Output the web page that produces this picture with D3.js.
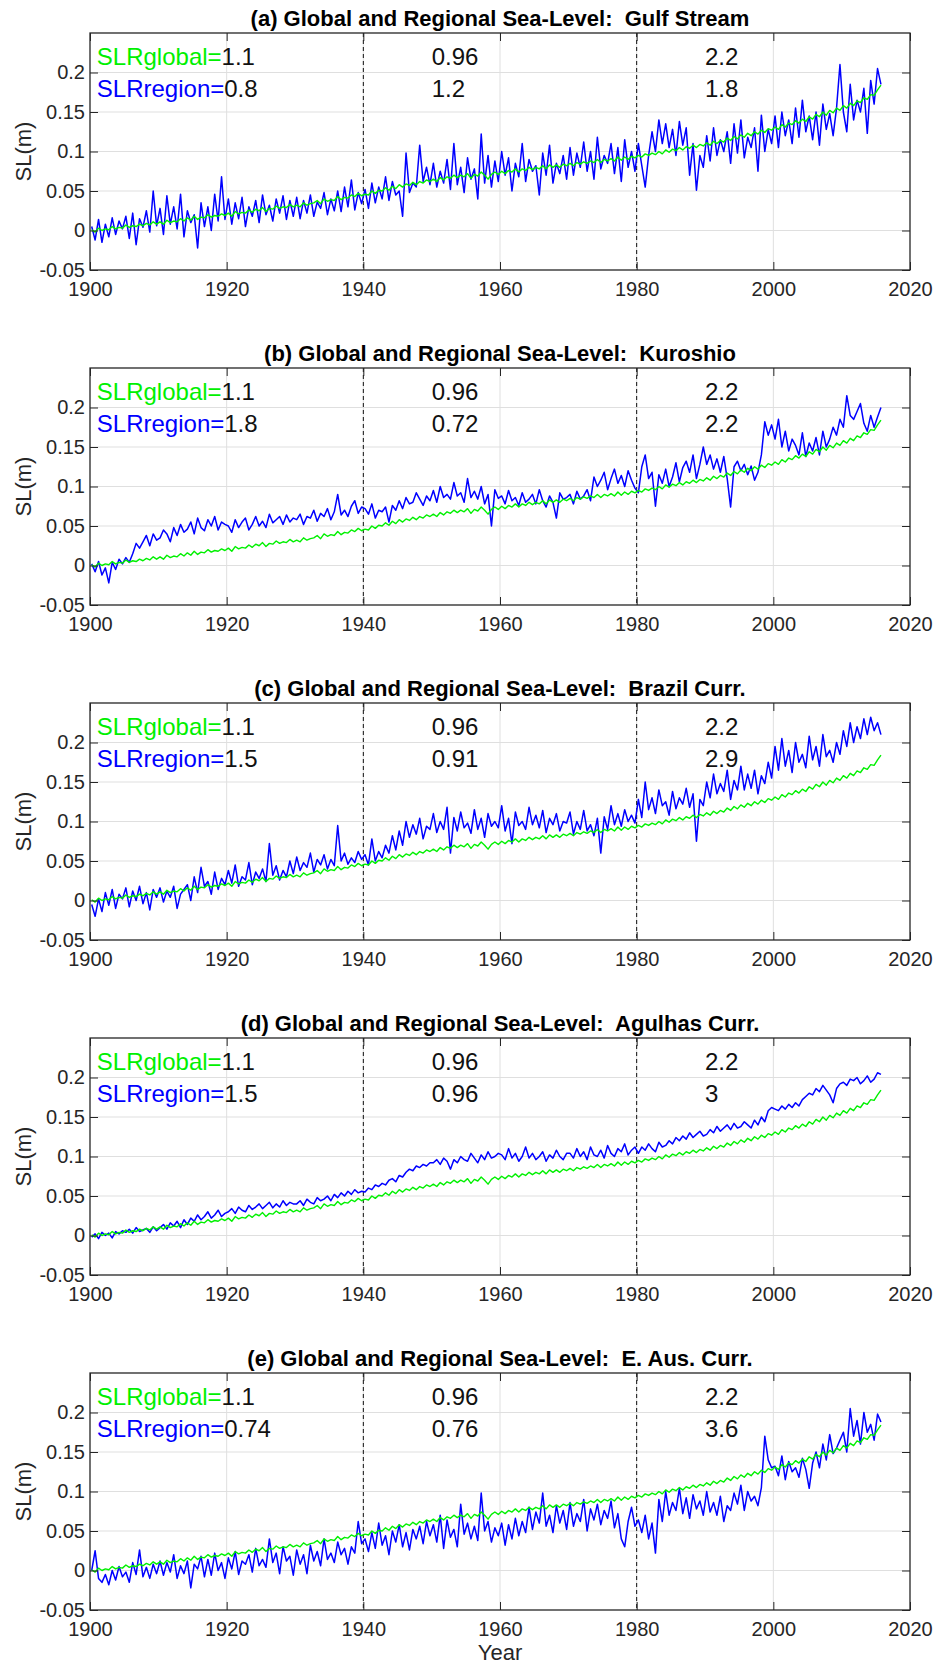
<!DOCTYPE html>
<html>
<head>
<meta charset="utf-8">
<script src="https://cdn.jsdelivr.net/npm/d3@7"></script>
<style>
  body { margin: 0; background: #fff; }
  svg { display: block; font-family: "Liberation Sans", Arial, Helvetica, sans-serif; }
</style>
</head>
<body>
<svg id="chart" width="947" height="1669"></svg>
<script>
// Sea level, mm, half-yearly samples starting 1900.25
const startYear = 1900.25;
const stepYears = 0.5;

const globalSL = [
  1,-2,3,0,2,1,5,2,4,3,7,4,6,5,8,6,9,7,11,8,
  11,8,13,10,12,11,15,12,16,13,18,14,17,16,20,17,19,18,21,19,
  22,18,24,21,23,22,26,23,27,25,29,24,28,27,31,28,30,29,33,30,
  32,30,35,32,34,35,38,34,40,37,39,38,43,39,42,41,45,43,47,44,
  46,45,50,47,51,50,54,51,56,53,58,55,59,57,61,58,62,60,64,62,
  65,62,67,64,68,66,70,67,70,68,72,66,71,69,74,70,65,71,74,71,
  75,72,76,74,78,74,78,76,80,77,80,78,82,78,83,80,83,80,84,82,
  85,82,86,84,87,85,88,86,90,86,90,88,91,88,93,89,93,90,94,92,
  95,93,97,95,98,96,100,97,102,99,103,101,105,102,106,104,108,105,109,107,
  111,108,113,110,114,112,117,114,119,116,121,118,123,120,125,122,127,124,129,127,
  131,128,134,131,136,134,139,136,141,138,144,141,147,144,150,146,152,149,155,152,
  158,155,161,158,164,162,168,166,172,171,178,184
];

const gulfStream = [
  5,-12,14,-15,8,-8,16,-5,12,2,18,-10,22,-18,15,4,25,-2,50,6,
  28,-5,44,8,30,2,46,-8,25,10,20,-22,35,5,30,0,46,12,68,14,
  40,8,35,15,42,5,30,18,38,10,45,20,32,12,40,22,44,14,38,18,
  42,15,38,22,45,18,36,28,48,20,40,25,50,24,55,30,64,26,48,34,
  52,28,60,35,55,40,68,38,62,45,50,18,98,48,60,55,108,62,80,58,
  85,55,75,60,90,52,110,58,80,48,92,65,78,40,122,60,95,55,88,62,
  100,70,92,50,85,68,110,62,90,75,82,45,98,70,108,60,85,72,95,65,
  105,70,98,80,112,75,100,65,118,78,95,85,110,72,105,62,115,80,100,75,
  110,82,55,95,125,100,140,110,135,105,128,95,138,108,130,70,110,51,95,80,
  120,88,130,95,115,100,125,85,135,98,140,92,118,105,130,75,146,100,128,110,
  145,105,150,120,140,110,155,118,165,125,145,115,150,108,160,128,148,120,155,210,
  150,125,185,140,165,150,180,123,190,160,205,185
];

const kuroshio = [
  2,-8,5,-12,-3,-22,4,-5,8,2,10,4,15,28,22,30,38,25,40,32,
  35,45,40,30,48,38,52,42,46,55,40,60,48,44,58,50,62,45,55,52,
  50,42,58,48,55,60,45,52,62,50,56,48,65,54,58,62,52,64,55,60,
  58,65,52,62,60,70,56,66,62,72,58,68,90,64,70,62,75,82,66,74,
  72,65,78,60,70,68,74,55,76,70,82,72,86,78,80,92,84,76,88,82,
  95,80,100,86,90,84,105,88,92,80,110,86,94,84,100,78,90,50,96,85,
  88,78,95,82,86,76,92,80,84,90,78,96,82,74,88,80,60,92,84,86,
  90,78,94,84,88,96,82,112,100,108,118,96,110,122,104,114,100,120,108,98,
  92,125,140,110,118,75,115,104,122,100,112,130,106,124,132,118,140,110,128,150,
  128,140,122,135,118,138,110,74,125,132,120,128,115,126,108,118,140,182,165,178,
  160,185,150,170,145,160,152,140,168,138,155,145,162,140,170,150,160,175,165,185,
  175,215,190,185,195,205,180,170,190,175,188,200
];

const brazilCurr = [
  -5,-20,2,-14,10,-6,14,-10,8,2,16,-8,12,0,18,-4,10,-12,14,4,
  16,-2,12,4,18,-10,8,14,20,0,30,10,42,18,24,8,36,14,28,20,
  38,22,45,18,30,26,48,20,36,28,40,24,72,32,44,26,38,30,50,34,
  55,38,48,42,60,36,52,45,58,40,52,44,95,50,60,46,54,48,62,52,
  58,45,78,50,62,54,70,60,82,64,88,70,100,80,96,84,104,78,94,90,
  110,86,100,90,118,60,105,88,112,92,98,85,115,90,104,80,110,94,100,92,
  120,88,104,72,112,95,100,90,118,96,108,92,114,86,104,96,110,88,100,98,
  112,84,100,90,114,88,96,82,104,60,106,90,120,96,110,94,115,100,108,98,
  128,105,150,115,130,110,140,120,125,108,138,116,130,122,142,118,135,75,128,120,
  150,130,160,135,148,138,165,128,152,140,170,140,160,142,165,135,158,148,175,155,
  195,165,205,170,190,162,200,175,185,168,208,178,195,170,210,182,190,175,200,185,
  215,195,225,200,220,205,230,210,232,215,225,210
];

const agulhasCurr = [
  -2,2,-4,4,0,3,-3,5,2,6,4,8,3,10,5,7,9,4,11,6,
  10,14,8,16,12,18,10,20,14,22,18,26,20,24,30,22,26,32,24,28,
  30,34,28,36,32,30,38,33,36,40,34,38,42,35,40,36,44,38,42,40,
  40,44,38,46,42,40,48,44,46,50,44,52,48,54,50,56,52,58,54,56,
  55,60,58,64,62,66,64,70,72,68,76,74,80,84,82,88,86,90,88,92,
  92,96,90,98,94,84,96,92,100,96,94,104,98,92,102,96,106,98,100,104,
  102,96,110,98,104,94,100,112,98,104,96,100,106,94,102,98,108,100,96,104,
  104,98,110,100,106,96,112,102,100,108,98,114,104,100,110,106,116,102,108,112,
  104,112,108,116,110,106,118,112,114,120,116,124,120,126,122,130,124,128,132,126,
  128,134,130,138,132,136,140,134,142,136,138,144,140,136,146,140,150,144,158,162,
  160,158,164,160,166,162,168,164,172,176,180,178,186,182,190,184,178,168,186,192,
  194,190,198,196,200,192,196,202,194,198,206,204
];

const eAusCurr = [
  0,25,-10,-15,-5,-18,0,-12,5,-8,-2,-15,10,-5,26,-8,4,-10,8,-4,
  12,-6,10,-2,20,-10,6,-4,12,-22,8,2,18,-8,14,-6,22,0,10,-10,
  16,2,24,-5,12,8,20,-2,28,6,14,4,40,10,22,-4,30,12,18,-6,
  26,8,20,-4,32,12,24,6,40,14,22,10,36,20,28,8,30,22,62,34,
  40,24,48,28,60,32,44,20,50,36,58,30,48,26,52,40,56,34,62,44,
  58,36,70,28,64,42,52,30,84,46,60,40,56,38,98,50,62,36,54,44,
  60,32,58,40,66,44,62,48,80,52,74,60,98,56,70,48,82,60,76,52,
  86,56,72,62,90,50,78,64,84,58,76,66,88,54,72,40,30,62,80,56,
  64,48,70,40,60,22,90,62,100,70,86,76,104,72,92,66,96,78,88,70,
  100,74,86,70,94,62,82,76,98,84,108,76,100,88,94,82,105,170,140,130,
  132,120,145,115,138,125,130,118,142,128,104,136,150,130,160,140,172,148,155,165,
  175,150,205,170,190,160,200,175,185,165,198,188
];

const panelTitles = [
  "(a) Global and Regional Sea-Level:  Gulf Stream",
  "(b) Global and Regional Sea-Level:  Kuroshio",
  "(c) Global and Regional Sea-Level:  Brazil Curr.",
  "(d) Global and Regional Sea-Level:  Agulhas Curr.",
  "(e) Global and Regional Sea-Level:  E. Aus. Curr."
];
const regionalSeries = [gulfStream, kuroshio, brazilCurr, agulhasCurr, eAusCurr];

// trend rates (mm/yr) for 1900-1940, 1940-1980, 1980-present
const globalRates = ["1.1", "0.96", "2.2"];
const regionRates = [
  ["0.8", "1.2", "1.8"],
  ["1.8", "0.72", "2.2"],
  ["1.5", "0.91", "2.9"],
  ["1.5", "0.96", "3"],
  ["0.74", "0.76", "3.6"]
];
const rateYears = [1901, 1950, 1990];
const rateLevels = [0.209, 0.1695];
const breakYears = [1940, 1980];

const xTicks = [1900, 1920, 1940, 1960, 1980, 2000, 2020];
const xTickLabels = ["1900", "1920", "1940", "1960", "1980", "2000", "2020"];
const yTicks = [-0.05, 0, 0.05, 0.1, 0.15, 0.2];
const yTickLabels = ["-0.05", "0", "0.05", "0.1", "0.15", "0.2"];

// ---- layout ----
const W = 947, H = 1669;
const plotLeft = 90, plotRight = 910;
const firstTop = 33, panelStep = 335, plotH = 237;
const axisColor = "#262626";
const gridColor = "#dfdfdf";
const blue = "#0000ff", green = "#00f000";

const svg = d3.select("#chart");
svg.append("rect").attr("width", W).attr("height", H).attr("fill", "#fff");

const x = d3.scaleLinear().domain([1900, 2020]).range([plotLeft, plotRight]);
const time = globalSL.map((_, i) => startYear + stepYears * i);

regionalSeries.forEach((series, k) => {
  const top = firstTop + k * panelStep;
  const bottom = top + plotH;
  const y = d3.scaleLinear().domain([-0.05, 0.25]).range([bottom, top]);
  const g = svg.append("g");

  // grid
  g.append("g").selectAll("line").data(xTicks.slice(1, -1)).join("line")
    .attr("x1", d => x(d)).attr("x2", d => x(d))
    .attr("y1", top).attr("y2", bottom)
    .attr("stroke", gridColor).attr("stroke-width", 1);
  g.append("g").selectAll("line").data(yTicks.slice(1)).join("line")
    .attr("x1", plotLeft).attr("x2", plotRight)
    .attr("y1", d => y(d)).attr("y2", d => y(d))
    .attr("stroke", gridColor).attr("stroke-width", 1);

  // period boundaries
  g.append("g").selectAll("line").data(breakYears).join("line")
    .attr("x1", d => x(d)).attr("x2", d => x(d))
    .attr("y1", top).attr("y2", bottom)
    .attr("stroke", "#111").attr("stroke-width", 1)
    .attr("stroke-dasharray", "4,3");

  // series
  const clipId = "clip" + k;
  g.append("clipPath").attr("id", clipId).append("rect")
    .attr("x", plotLeft).attr("y", top)
    .attr("width", plotRight - plotLeft).attr("height", plotH);
  const line = d3.line().x((d, i) => x(time[i])).y(d => y(d / 1000));
  const lines = g.append("g").attr("clip-path", `url(#${clipId})`);
  lines.append("path").datum(series).attr("d", line)
    .attr("fill", "none").attr("stroke", blue).attr("stroke-width", 1.5)
    .attr("stroke-linejoin", "round");
  lines.append("path").datum(globalSL).attr("d", line)
    .attr("fill", "none").attr("stroke", green).attr("stroke-width", 1.4)
    .attr("stroke-linejoin", "round");

  // axes
  const fmtX = d => xTickLabels[xTicks.indexOf(d)];
  const fmtY = d => yTickLabels[yTicks.indexOf(d)];
  const ax = [
    g.append("g").attr("transform", `translate(0,${bottom})`)
      .call(d3.axisBottom(x).tickValues(xTicks).tickFormat(fmtX).tickSizeInner(-8).tickSizeOuter(0).tickPadding(12)),
    g.append("g").attr("transform", `translate(0,${top})`)
      .call(d3.axisTop(x).tickValues(xTicks).tickFormat("").tickSizeInner(-8).tickSizeOuter(0)),
    g.append("g").attr("transform", `translate(${plotLeft},0)`)
      .call(d3.axisLeft(y).tickValues(yTicks).tickFormat(fmtY).tickSizeInner(-8).tickSizeOuter(0).tickPadding(5)),
    g.append("g").attr("transform", `translate(${plotRight},0)`)
      .call(d3.axisRight(y).tickValues(yTicks).tickFormat("").tickSizeInner(-8).tickSizeOuter(0))
  ];
  ax.forEach(a => {
    a.select(".domain").remove();
    a.selectAll("line").attr("stroke", axisColor).attr("stroke-width", 1);
    a.selectAll("text").attr("fill", axisColor).style("font-size", "20px")
      .style("font-family", '"Liberation Sans", Arial, Helvetica, sans-serif');
  });

  // frame
  g.append("rect").attr("x", plotLeft).attr("y", top)
    .attr("width", plotRight - plotLeft).attr("height", plotH)
    .attr("fill", "none").attr("stroke", axisColor).attr("stroke-width", 1.3);

  // title
  g.append("text").attr("x", (plotLeft + plotRight) / 2).attr("y", top - 7)
    .attr("text-anchor", "middle").style("font-size", "22px").style("font-weight", "bold")
    .style("white-space", "pre").attr("fill", "#000")
    .text(panelTitles[k]);

  // y label
  g.append("text").attr("transform", `translate(31,${(top + bottom) / 2}) rotate(-90)`)
    .attr("text-anchor", "middle").style("font-size", "22px").attr("fill", axisColor)
    .text("SL(m)");

  // rate annotations
  const rows = [
    { label: "SLRglobal=", color: green, values: globalRates },
    { label: "SLRregion=", color: blue, values: regionRates[k] }
  ];
  rows.forEach((row, r) => {
    const ty = y(rateLevels[r]);
    const t0 = g.append("text").attr("x", x(rateYears[0])).attr("y", ty).style("font-size", "24px");
    t0.append("tspan").attr("fill", row.color).text(row.label);
    t0.append("tspan").attr("fill", "#111").text(row.values[0]);
    row.values.slice(1).forEach((v, j) => {
      g.append("text").attr("x", x(rateYears[j + 1])).attr("y", ty)
        .style("font-size", "24px").attr("fill", "#111").text(v);
    });
  });

  if (k === regionalSeries.length - 1) {
    g.append("text").attr("x", (plotLeft + plotRight) / 2).attr("y", bottom + 50)
      .attr("text-anchor", "middle").style("font-size", "22px").attr("fill", axisColor)
      .text("Year");
  }
});
</script>
</body>
</html>
